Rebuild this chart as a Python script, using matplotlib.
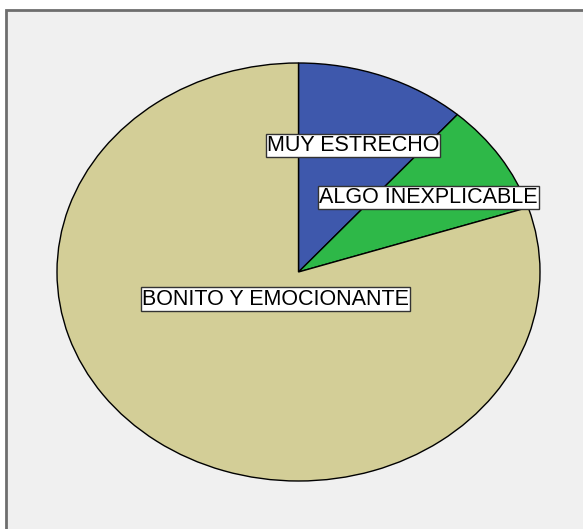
import numpy as np
import matplotlib.pyplot as plt
from matplotlib.patches import Rectangle

# data (counts)
categories = ['MUY ESTRECHO', 'ALGO INEXPLICABLE', 'BONITO Y EMOCIONANTE']
counts = [4, 3, 28]
colors = ['#3e58ac', '#2eb848', '#d3ce97']
label_r = [0.645, 0.645, 0.16]

W, H = 583, 529
fig = plt.figure(figsize=(W / 100, H / 100), dpi=100)
fig.patch.set_facecolor('white')

# SPSS-like chart frame, runs past the right and bottom edges
frame = Rectangle((6 / W, 0 - 0.01), 1.0, (H - 10) / H + 0.01, transform=fig.transFigure,
                  facecolor='#f0f0f0', edgecolor='#6e6e6e', linewidth=2, zorder=-5)
fig.patches.append(frame)

ax = fig.add_axes([57 / W, (H - 481) / H, 483 / W, 418 / H])
ax.set_facecolor('none')
wedges, _ = ax.pie(counts, colors=colors, startangle=90, counterclock=False,
                   wedgeprops=dict(edgecolor='black', linewidth=1))
ax.set_aspect('auto')
ax.set_xlim(-1, 1)
ax.set_ylim(-1, 1)
ax.axis('off')
for w in wedges:
    w.set_clip_on(False)

for w, lab, r in zip(wedges, categories, label_r):
    mid = np.deg2rad((w.theta1 + w.theta2) / 2)
    ax.text(r * np.cos(mid), r * np.sin(mid), lab, ha='center', va='center',
            family='Liberation Sans', fontsize=15.5, color='black',
            bbox=dict(boxstyle='square,pad=0.05', facecolor='white',
                      edgecolor='#333333', linewidth=1))

plt.savefig('out.png', dpi=100)
